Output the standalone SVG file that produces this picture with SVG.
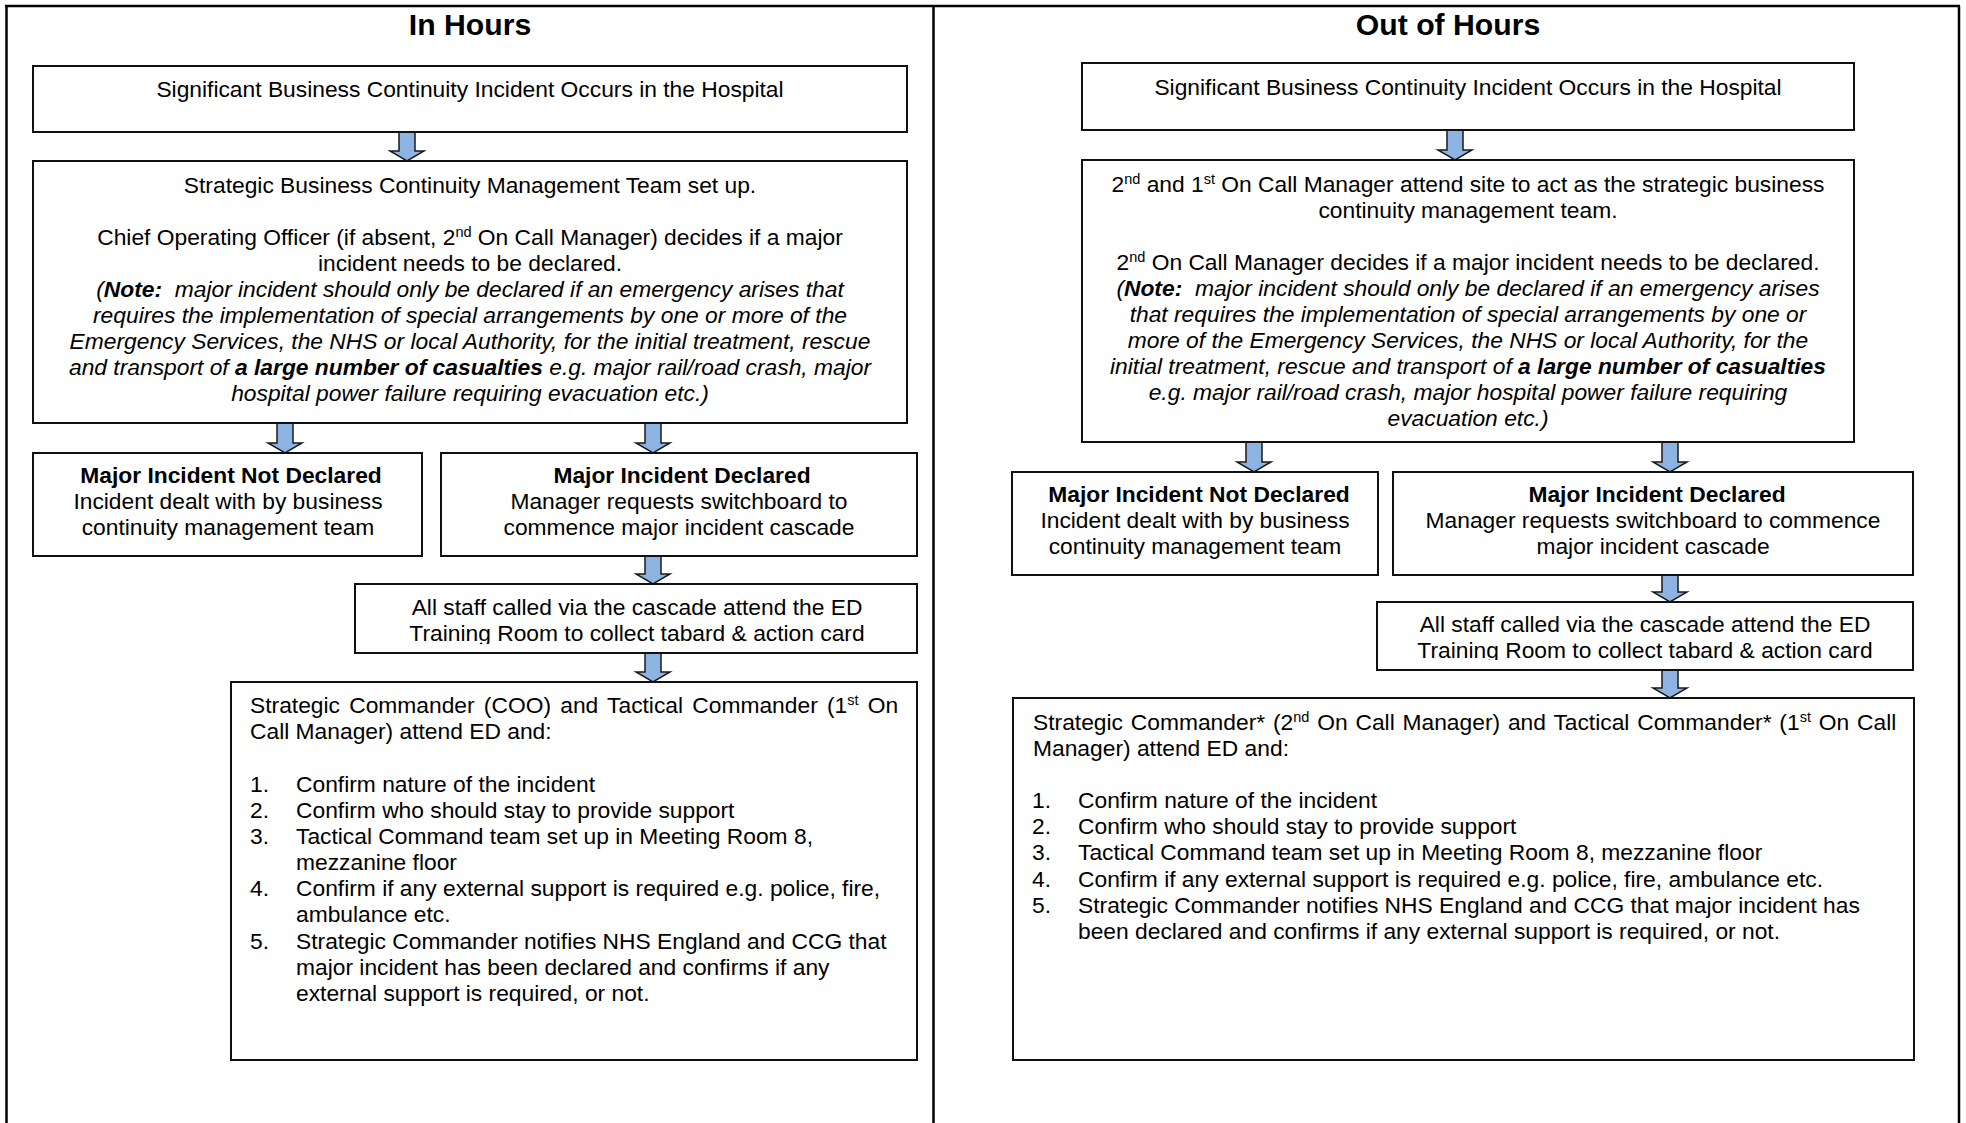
<svg xmlns="http://www.w3.org/2000/svg" width="1966" height="1123" viewBox="0 0 1966 1123">
<style>
.frame{fill:none;stroke:#000;stroke-width:2.5}
.box{fill:#fff;stroke:#111;stroke-width:2}
.arrow{fill:#8DB3E2;stroke:#1a1a1a;stroke-width:1.5;stroke-linejoin:miter}
.t{font-family:"Liberation Sans",Arial,sans-serif;font-size:22.8px;fill:#000}
.c{text-anchor:middle}
.b{font-weight:bold}
.i{font-style:italic}
.title{font-family:"Liberation Sans",Arial,sans-serif;font-size:30.2px;font-weight:bold;text-anchor:middle;fill:#000}
.sup{font-size:14.5px}
</style>
<defs>
<clipPath id="clipL5"><rect x="355" y="584" width="562" height="60"/></clipPath>
<clipPath id="clipR5"><rect x="1377" y="602" width="536" height="58"/></clipPath>
</defs>
<rect width="1966" height="1123" fill="#fff"/>
<g id="frame">
<line class="frame" x1="5" y1="6" x2="1960" y2="6"/>
<line class="frame" x1="6.5" y1="6" x2="6.5" y2="1123"/>
<line class="frame" x1="933.5" y1="6" x2="933.5" y2="1123"/>
<line class="frame" x1="1959" y1="6" x2="1959" y2="1123"/>
</g>
<text class="title" x="470" y="35">In Hours</text>
<text class="title" x="1448" y="35">Out of Hours</text>

<g id="connectors">
<polygon class="arrow" points="399,132 415,132 415,151 424,151 407,161 390,151 399,151"/>
<polygon class="arrow" points="277,423 293,423 293,443 302,443 285,453 268,443 277,443"/>
<polygon class="arrow" points="645,423 661,423 661,443 670,443 653,453 636,443 645,443"/>
<polygon class="arrow" points="645,556 661,556 661,574 670,574 653,584 636,574 645,574"/>
<polygon class="arrow" points="645,653 661,653 661,672 670,672 653,682 636,672 645,672"/>
<polygon class="arrow" points="1447,130 1463,130 1463,150 1472,150 1455,160 1438,150 1447,150"/>
<polygon class="arrow" points="1246,442 1262,442 1262,462 1271,462 1254,472 1237,462 1246,462"/>
<polygon class="arrow" points="1662,442 1678,442 1678,462 1687,462 1670,472 1653,462 1662,462"/>
<polygon class="arrow" points="1662,575 1678,575 1678,592 1687,592 1670,602 1653,592 1662,592"/>
<polygon class="arrow" points="1662,670 1678,670 1678,688 1687,688 1670,698 1653,688 1662,688"/>
</g>

<g id="L1">
<rect class="box" x="33" y="66" width="874" height="66"/>
<text class="t c" x="470" y="97">Significant Business Continuity Incident Occurs in the Hospital</text>
</g>
<g id="L2">
<rect class="box" x="33" y="161" width="874" height="262"/>
<text class="t c" x="470" y="193">Strategic Business Continuity Management Team set up.</text>
<text class="t c" x="470" y="245">Chief Operating Officer (if absent, 2<tspan class="sup" dy="-8">nd</tspan><tspan dy="8"> On Call Manager) decides if a major</tspan></text>
<text class="t c" x="470" y="271">incident needs to be declared.</text>
<text class="t c i" x="470" y="297" xml:space="preserve">(<tspan class="b">Note:</tspan>  major incident should only be declared if an emergency arises that</text>
<text class="t c i" x="470" y="323">requires the implementation of special arrangements by one or more of the</text>
<text class="t c i" x="470" y="349">Emergency Services, the NHS or local Authority, for the initial treatment, rescue</text>
<text class="t c i" x="470" y="375">and transport of <tspan class="b">a large number of casualties</tspan> e.g. major rail/road crash, major</text>
<text class="t c i" x="470" y="401">hospital power failure requiring evacuation etc.)</text>
</g>
<g id="L3">
<rect class="box" x="33" y="453" width="389" height="103"/>
<text class="t c b" x="231" y="483">Major Incident Not Declared</text>
<text class="t c" x="228" y="509">Incident dealt with by business</text>
<text class="t c" x="228" y="535">continuity management team</text>
</g>
<g id="L4">
<rect class="box" x="441" y="453" width="476" height="103"/>
<text class="t c b" x="682" y="483">Major Incident Declared</text>
<text class="t c" x="679" y="509">Manager requests switchboard to</text>
<text class="t c" x="679" y="535">commence major incident cascade</text>
</g>
<g id="L5">
<rect class="box" x="355" y="584" width="562" height="69"/>
<g clip-path="url(#clipL5)">
<text class="t c" x="637" y="615">All staff called via the cascade attend the ED</text>
<text class="t c" x="637" y="641">Training Room to collect tabard &amp; action card</text>
</g>
</g>
<g id="L6">
<rect class="box" x="231" y="682" width="686" height="378"/>
<text class="t" x="250" y="713" word-spacing="2.9">Strategic Commander (COO) and Tactical Commander (1<tspan class="sup" dy="-8">st</tspan><tspan dy="8"> On</tspan></text>
<text class="t" x="250" y="739">Call Manager) attend ED and:</text>
<text class="t" x="250" y="792">1.</text><text class="t" x="296" y="792">Confirm nature of the incident</text>
<text class="t" x="250" y="818">2.</text><text class="t" x="296" y="818">Confirm who should stay to provide support</text>
<text class="t" x="250" y="844">3.</text><text class="t" x="296" y="844">Tactical Command team set up in Meeting Room 8,</text>
<text class="t" x="296" y="870">mezzanine floor</text>
<text class="t" x="250" y="896">4.</text><text class="t" x="296" y="896">Confirm if any external support is required e.g. police, fire,</text>
<text class="t" x="296" y="922">ambulance etc.</text>
<text class="t" x="250" y="949">5.</text><text class="t" x="296" y="949">Strategic Commander notifies NHS England and CCG that</text>
<text class="t" x="296" y="975">major incident has been declared and confirms if any</text>
<text class="t" x="296" y="1001">external support is required, or not.</text>
</g>

<g id="R1">
<rect class="box" x="1082" y="63" width="772" height="67"/>
<text class="t c" x="1468" y="95">Significant Business Continuity Incident Occurs in the Hospital</text>
</g>
<g id="R2">
<rect class="box" x="1082" y="160" width="772" height="282"/>
<text class="t c" x="1468" y="192">2<tspan class="sup" dy="-8">nd</tspan><tspan dy="8"> and 1</tspan><tspan class="sup" dy="-8">st</tspan><tspan dy="8"> On Call Manager attend site to act as the strategic business</tspan></text>
<text class="t c" x="1468" y="218">continuity management team.</text>
<text class="t c" x="1468" y="270">2<tspan class="sup" dy="-8">nd</tspan><tspan dy="8"> On Call Manager decides if a major incident needs to be declared.</tspan></text>
<text class="t c i" x="1468" y="296" xml:space="preserve">(<tspan class="b">Note:</tspan>  major incident should only be declared if an emergency arises</text>
<text class="t c i" x="1468" y="322">that requires the implementation of special arrangements by one or</text>
<text class="t c i" x="1468" y="348">more of the Emergency Services, the NHS or local Authority, for the</text>
<text class="t c i" x="1468" y="374">initial treatment, rescue and transport of <tspan class="b">a large number of casualties</tspan></text>
<text class="t c i" x="1468" y="400">e.g. major rail/road crash, major hospital power failure requiring</text>
<text class="t c i" x="1468" y="426">evacuation etc.)</text>
</g>
<g id="R3">
<rect class="box" x="1012" y="472" width="366" height="103"/>
<text class="t c b" x="1199" y="502">Major Incident Not Declared</text>
<text class="t c" x="1195" y="528">Incident dealt with by business</text>
<text class="t c" x="1195" y="554">continuity management team</text>
</g>
<g id="R4">
<rect class="box" x="1393" y="472" width="520" height="103"/>
<text class="t c b" x="1657" y="502">Major Incident Declared</text>
<text class="t c" x="1653" y="528">Manager requests switchboard to commence</text>
<text class="t c" x="1653" y="554">major incident cascade</text>
</g>
<g id="R5">
<rect class="box" x="1377" y="602" width="536" height="68"/>
<g clip-path="url(#clipR5)">
<text class="t c" x="1645" y="632">All staff called via the cascade attend the ED</text>
<text class="t c" x="1645" y="658">Training Room to collect tabard &amp; action card</text>
</g>
</g>
<g id="R6">
<rect class="box" x="1013" y="698" width="901" height="362"/>
<text class="t" x="1033" y="730" word-spacing="1.5">Strategic Commander* (2<tspan class="sup" dy="-8">nd</tspan><tspan dy="8"> On Call Manager) and Tactical Commander* (1</tspan><tspan class="sup" dy="-8">st</tspan><tspan dy="8"> On Call</tspan></text>
<text class="t" x="1033" y="756">Manager) attend ED and:</text>
<text class="t" x="1032" y="808">1.</text><text class="t" x="1078" y="808">Confirm nature of the incident</text>
<text class="t" x="1032" y="834">2.</text><text class="t" x="1078" y="834">Confirm who should stay to provide support</text>
<text class="t" x="1032" y="860">3.</text><text class="t" x="1078" y="860">Tactical Command team set up in Meeting Room 8, mezzanine floor</text>
<text class="t" x="1032" y="887">4.</text><text class="t" x="1078" y="887">Confirm if any external support is required e.g. police, fire, ambulance etc.</text>
<text class="t" x="1032" y="913">5.</text><text class="t" x="1078" y="913">Strategic Commander notifies NHS England and CCG that major incident has</text>
<text class="t" x="1078" y="939">been declared and confirms if any external support is required, or not.</text>
</g>
</svg>
